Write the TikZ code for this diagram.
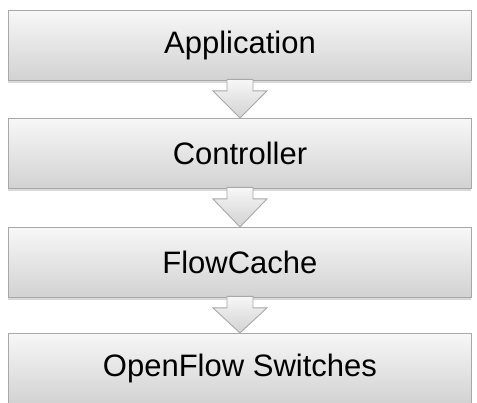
\documentclass[tikz,border=0pt]{standalone}
\usepackage{fontspec}
\setmainfont{Liberation Sans}
\usetikzlibrary{shadows,calc}
\definecolor{boxedge}{HTML}{A8A8A8}
\definecolor{boxtop}{HTML}{F7F7F7}
\definecolor{boxbot}{HTML}{D2D2D2}
\begin{document}
\begin{tikzpicture}[x=1pt,y=-1pt,
  layerbox/.style={draw=boxedge, line width=0.9pt, top color=boxtop, bottom color=boxbot,
    minimum width=463pt, minimum height=70pt, inner sep=0pt, anchor=north west,
    font=\fontsize{31}{33}\selectfont,
    drop shadow={shadow xshift=0pt, shadow yshift=-3pt, opacity=0.3, fill=gray}},
  downarrow/.style={draw=boxedge, line width=0.9pt, top color=boxtop, bottom color=boxbot}
]
\useasboundingbox (0,0) rectangle (477,402);
\node[layerbox] (app) at (8,10) {Application};
\node[layerbox] (ctl) at (8,118) {Controller};
\node[layerbox] (fc) at (8,227) {FlowCache};
\node[layerbox] (ofs) at (8,333) {OpenFlow Switches};
\foreach \a/\b in {app/ctl, ctl/fc, fc/ofs}{
  \coordinate (s) at ($(\a.south)+(0,-1.5)$);
  \coordinate (h) at ($(\a.south)+(0,10)$);
  \draw[downarrow] ($(s)+(-13,0)$) -- ($(h)+(-13,0)$) -- ($(h)+(-27,0)$)
    -- (\b.north) -- ($(h)+(27,0)$) -- ($(h)+(13,0)$) -- ($(s)+(13,0)$) -- cycle;
}
\end{tikzpicture}
\end{document}
